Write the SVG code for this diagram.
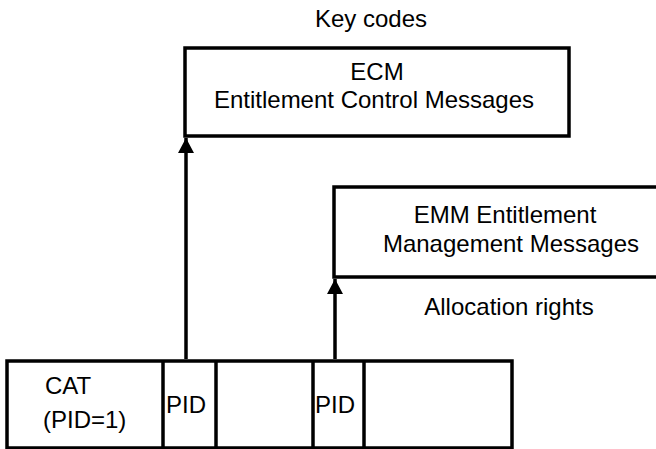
<svg xmlns="http://www.w3.org/2000/svg" width="656" height="449" viewBox="0 0 656 449">
<style>
text{font-family:"Liberation Sans",Arial,sans-serif;font-size:24px;fill:#000}
.box{fill:#fff;stroke:#000;stroke-width:3.5}
.c{text-anchor:middle}
.conn{stroke:#000;stroke-width:3.5;fill:none}
</style>
<defs>
<marker id="ah" viewBox="0 0 15 16" refX="15" refY="8" markerWidth="15" markerHeight="16" markerUnits="userSpaceOnUse" orient="auto">
<path d="M15 8 L0 0 L0 16 Z" fill="#000"/>
</marker>
</defs>
<rect width="656" height="449" fill="#fff"/>
<text class="c" x="371" y="27">Key codes</text>
<g id="ecm">
<rect class="box" x="185" y="48" width="384" height="88"/>
<text class="c" x="377" y="80">ECM</text>
<text class="c" x="374" y="108">Entitlement Control Messages</text>
</g>
<g id="emm">
<rect class="box" x="334" y="187" width="360" height="90"/>
<text class="c" x="505" y="223">EMM Entitlement</text>
<text class="c" x="511" y="252">Management Messages</text>
</g>
<text class="c" x="509" y="315">Allocation rights</text>
<g id="cat-row">
<rect class="box" x="7" y="361" width="505" height="87"/>
<line class="conn" x1="163" y1="361" x2="163" y2="448"/>
<line class="conn" x1="216" y1="361" x2="216" y2="448"/>
<line class="conn" x1="313" y1="361" x2="313" y2="448"/>
<line class="conn" x1="364" y1="361" x2="364" y2="448"/>
<text x="45" y="394">CAT</text>
<text x="43" y="428">(PID=1)</text>
<text x="166" y="413">PID</text>
<text x="315" y="413">PID</text>
</g>
<g id="connectors">
<line class="conn" x1="186" y1="359" x2="186" y2="138" marker-end="url(#ah)"/>
<line class="conn" x1="335" y1="359" x2="335" y2="279" marker-end="url(#ah)"/>
</g>
</svg>
